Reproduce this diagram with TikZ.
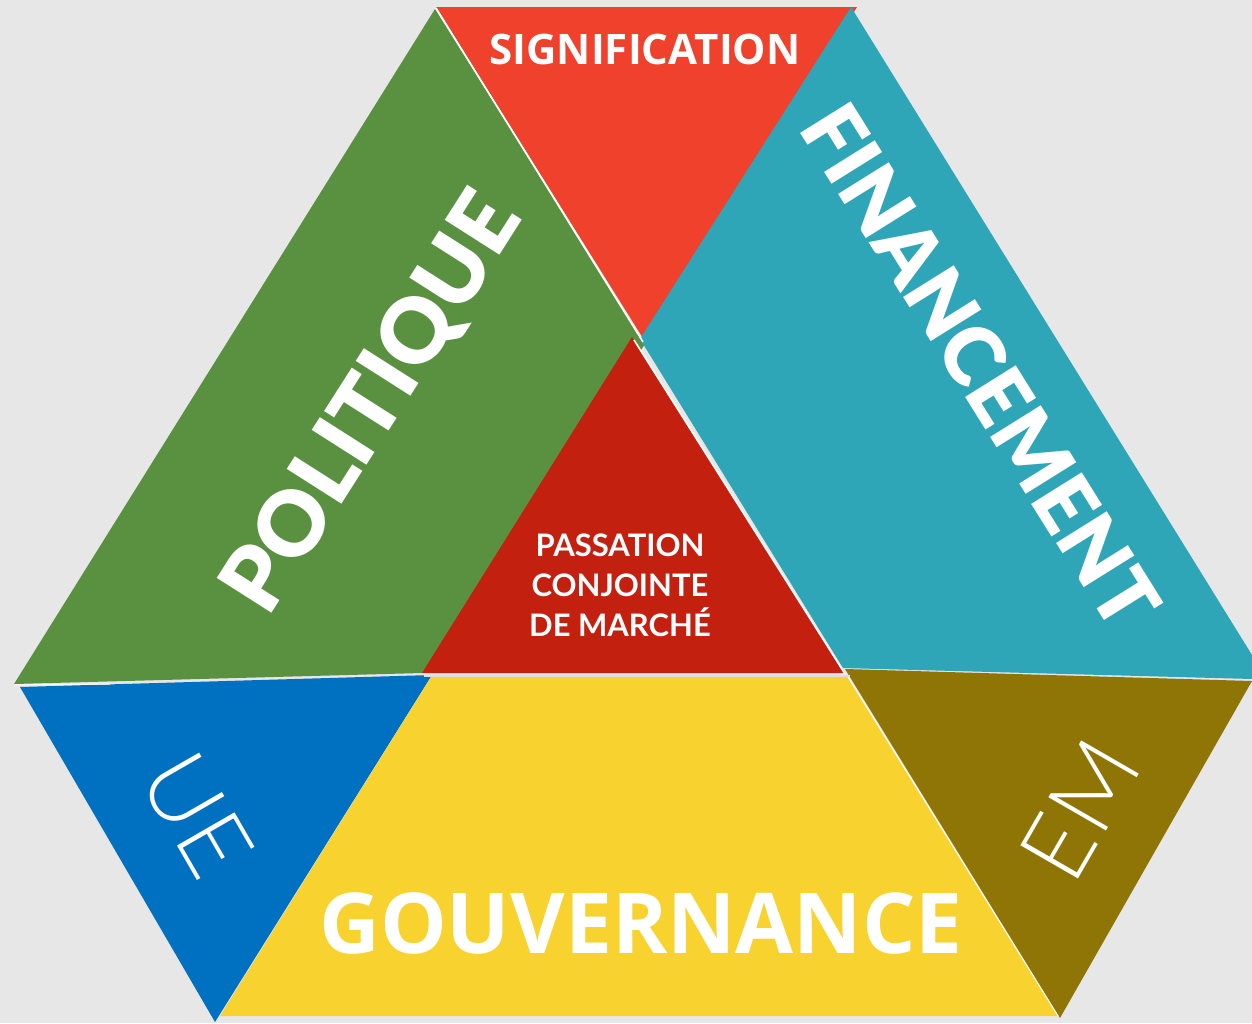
\documentclass[tikz,border=0pt]{standalone}
\usepackage{fontspec}
\setmainfont{Lato}
\newfontfamily\osans{Open Sans}
\newfontfamily\latolight{Lato Light}
\newfontfamily\latoblack{Lato Black}
\definecolor{bgc}{HTML}{E7E7E7}
\definecolor{cgreen}{HTML}{5A9141}
\definecolor{cred}{HTML}{F0412D}
\definecolor{cteal}{HTML}{2FA5B8}
\definecolor{cdark}{HTML}{C4200F}
\definecolor{cblue}{HTML}{0070C0}
\definecolor{cyellow}{HTML}{F8D22F}
\definecolor{colive}{HTML}{8E7505}
\definecolor{gapc}{HTML}{DEDEDE}
\tikzset{
  wline/.style={draw=white, line width=1.6pt},
  gline/.style={draw=gapc, line width=2pt},
  lab/.style={text=white, inner sep=0pt, anchor=center},
}
\begin{document}
\begin{tikzpicture}[x=1pt,y=-1pt]
\fill[bgc] (0,0) rectangle (1252,1023);
\useasboundingbox (0,0) rectangle (1252,1023);
% pieces
\fill[cgreen] (435,9) -- (645,344) -- (422,673) -- (14,684) -- cycle;
\fill[cred] (436,7) -- (857,7) -- (646,343) -- cycle;
\fill[cteal] (851,7) -- (1252,655) -- (1252,679) -- (843,668) -- (640,339) -- cycle;
\fill[cdark] (632,337) -- (422,673) -- (845,673) -- cycle;
\fill[cblue] (20,687) -- (432,675) -- (215,1022) -- cycle;
\fill[cyellow] (431,677) -- (848,677) -- (1058,1016) -- (220,1016) -- cycle;
\fill[colive] (845,669) -- (1252,681) -- (1060,1018) -- cycle;
% thin separating lines
\draw[wline] (436,8) -- (643,342);
\draw[wline] (634,340) -- (845,674);
\draw[wline, line width=1pt] (848,677) -- (1058,1016);
\draw[gline] (424,675.5) -- (850,675.5);
\draw[wline, line width=1pt] (14,685) -- (110,684);
% labels
\node[lab, font={\osans\bfseries\fontsize{42}{50}\selectfont}] (sig) at (645,49) {SIGNIFICATION};
\node[lab, font={\osans\bfseries\fontsize{84}{96}\selectfont}] (gouv) at (641,923) {GOUVERNANCE};
\node[lab, rotate=57.5, font={\latoblack\fontsize{89}{100}\selectfont}] (pol) at (374,404) {POLITIQUE};
\node[lab, rotate=-58, font={\latoblack\fontsize{82}{92}\selectfont}] (fin) at (981,366) {FINANCEMENT};
\node[lab, align=center, font={\bfseries\fontsize{31}{40}\selectfont}] (pcm) at (620,585) {PASSATION\\CONJOINTE\\DE MARCHÉ};
\node[lab, rotate=-60, font={\latolight\fontsize{94}{100}\selectfont}] (ue) at (197,815) {UE};
\node[lab, rotate=60, font={\latolight\fontsize{94}{100}\selectfont}] (em) at (1080,810) {EM};
\end{tikzpicture}
\end{document}
